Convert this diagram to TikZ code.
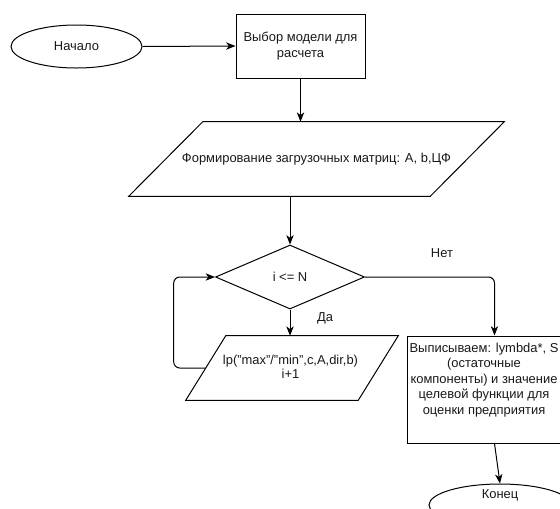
\documentclass[tikz,border=0pt]{standalone}
\usepackage{fontspec}
\setmainfont{Liberation Sans}
\usetikzlibrary{shapes.geometric,arrows.meta,calc}
\begin{document}
\begin{tikzpicture}[x=0.75pt,y=-0.75pt,
  every node/.style={font=\fontsize{9.7pt}{11.6pt}\selectfont, inner sep=0pt, text=black!90},
  shp/.style={draw, line width=0.75pt, fill=white},
  term/.style={shp, ellipse},
  proc/.style={shp, rectangle},
  iobody/.style={rectangle, draw=none},
  dec/.style={shp, diamond},
  arr/.style={line width=0.75pt, -{Stealth[length=7pt,width=5.5pt,inset=2pt]}}
]
\useasboundingbox (0,0) rectangle (560,508);
\clip (0,0) rectangle (560,508);

\node[term, minimum width=98.25pt, minimum height=32.25pt] (start) at (76.5,46.5) {Начало};
\node[proc, minimum width=96.75pt, minimum height=48pt, align=center] (choose) at (300.5,46) {Выбор модели для\\расчета};

% input/output parallelogram 1
\node[iobody, minimum width=225.75pt, minimum height=55.5pt] (form) at (316.5,159) {};
\draw[shp] ($(form.north west)+(37,0)$) -- ($(form.north east)+(37,0)$)
  -- ($(form.south east)+(-37,0)$) -- ($(form.south west)+(-37,0)$) -- cycle;
\node (formtext) at (form.center) {Формирование загрузочных матриц: A, b,ЦФ};

\node[dec, minimum width=111.75pt, minimum height=48pt] (cond) at (290,277) {i <= N};

% input/output parallelogram 2
\node[iobody, minimum width=129pt, minimum height=48pt] (lp) at (292,368) {};
\draw[shp] ($(lp.north west)+(20,0)$) -- ($(lp.north east)+(20,0)$)
  -- ($(lp.south east)+(-20,0)$) -- ($(lp.south west)+(-20,0)$) -- cycle;
\node[align=center] (lptext) at (290.5,367) {lp("max"/"min",c,A,dir,b)\\[-1.2pt]i+1};

\node[proc, minimum width=131.25pt, minimum height=80.25pt] (out) at (494.5,389.5) {};
\node[align=center] (outtext) at (484,380) {Выписываем: lymbda*, S\\(остаточные\\компоненты) и значение\\целевой функции для\\оценки предприятия};
\node[term, minimum width=106.5pt, minimum height=31.5pt] (finish) at (500,505) {};
\node (finishtext) at (500,495) {Конец};

\node (yes) at (325,318) {Да};
\node (no) at (442,253) {Нет};

\draw[arr] (start.east) -- (choose.west);
\draw[arr] (choose.south) -- (choose.south |- form.north);
\draw[arr] (cond.north |- form.south) -- (cond.north);
\draw[arr] (cond.south) -- (cond.south |- lp.north);
\draw[arr, rounded corners=4.5pt] (lp.west) -- ++(-32,0) |- (cond.west);
\draw[arr, rounded corners=4.5pt] (cond.east) -| (out.north);
\draw[arr] (out.south) -- (finish.north);
\end{tikzpicture}
\end{document}
